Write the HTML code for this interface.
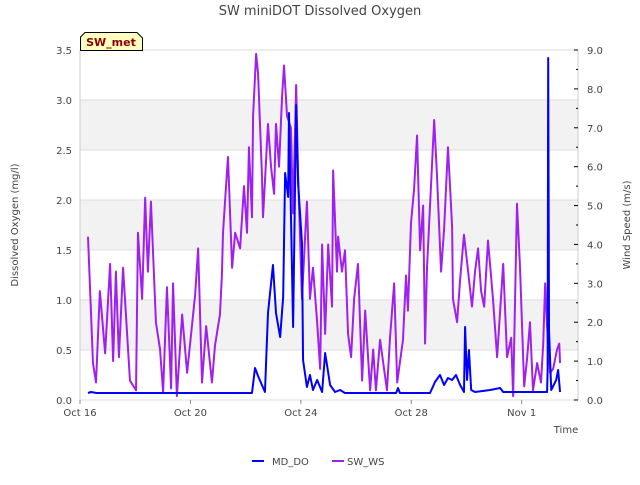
<!DOCTYPE html>
<html><head><meta charset="utf-8"><style>
body{margin:0;background:#fff;font-family:"Liberation Sans","DejaVu Sans",sans-serif}
svg text{font-family:"DejaVu Sans","Liberation Sans",sans-serif}
</style></head><body>
<svg id="c" width="640" height="480" viewBox="0 0 640 480" xmlns="http://www.w3.org/2000/svg"></svg>
<script>
// Days since Oct 16
const xTickDays=[0,4,8,12,16];
const xTickLabels=["Oct 16","Oct 20","Oct 24","Oct 28","Nov 1"];
const leftTicks=[0,0.5,1,1.5,2,2.5,3,3.5];
const rightTicks=[0,1,2,3,4,5,6,7,8,9];
const doT=[0.29,0.4,0.6,6.23,6.34,6.45,6.59,6.70,6.81,6.99,7.10,7.25,7.36,7.43,7.54,7.57,7.72,7.83,7.90,8.04,8.08,8.22,8.33,8.44,8.59,8.77,8.88,9.06,9.24,9.42,9.6,11.45,11.52,11.59,12.68,12.86,13.04,13.19,13.33,13.48,13.62,13.77,13.91,13.95,14.02,14.09,14.17,14.31,14.86,15.22,15.33,16.92,16.94,16.96,16.99,17.07,17.25,17.32,17.39];
const doV=[0.07,0.08,0.07,0.07,0.32,0.24,0.15,0.08,0.87,1.35,0.87,0.63,1.03,2.27,2.03,2.87,0.73,2.95,2.17,1.57,0.4,0.13,0.25,0.1,0.2,0.08,0.47,0.15,0.08,0.1,0.07,0.07,0.12,0.07,0.07,0.18,0.25,0.15,0.22,0.2,0.25,0.15,0.08,0.73,0.2,0.5,0.1,0.08,0.1,0.12,0.08,0.08,0.3,3.42,0.7,0.1,0.2,0.3,0.08];
const wsT=[0.29,0.47,0.58,0.72,0.91,1.09,1.20,1.30,1.41,1.56,1.81,2.03,2.10,2.25,2.36,2.46,2.57,2.75,2.90,3.01,3.15,3.30,3.37,3.51,3.70,3.88,4.17,4.28,4.42,4.57,4.78,4.89,5.07,5.14,5.18,5.36,5.51,5.62,5.80,5.94,6.05,6.12,6.23,6.27,6.38,6.45,6.59,6.63,6.81,6.92,7.03,7.10,7.21,7.32,7.39,7.50,7.64,7.72,7.83,7.90,8.04,8.22,8.33,8.44,8.59,8.70,8.77,8.88,8.99,9.13,9.17,9.31,9.35,9.49,9.60,9.71,9.82,9.93,10.07,10.22,10.33,10.51,10.62,10.72,10.87,11.12,11.23,11.38,11.49,11.70,11.81,11.88,11.99,12.10,12.21,12.32,12.43,12.50,12.57,12.68,12.83,12.93,13.08,13.19,13.33,13.48,13.51,13.66,13.77,13.91,14.06,14.20,14.31,14.42,14.53,14.64,14.78,14.96,15.11,15.33,15.47,15.62,15.69,15.83,15.94,16.09,16.20,16.30,16.41,16.56,16.70,16.78,16.85,16.92,17.03,17.14,17.28,17.36,17.39];
const wsV=[4.2,0.95,0.45,2.8,1.2,3.5,1.0,3.3,1.1,3.4,0.5,0.25,4.3,2.6,5.2,3.3,5.1,2.0,1.3,0.2,2.9,0.3,3.0,0.1,2.2,0.7,2.7,3.9,0.45,1.9,0.45,1.4,2.2,3.2,4.3,6.25,3.4,4.3,3.9,5.5,4.3,6.5,4.7,7.3,8.9,8.4,5.8,4.7,7.1,6.0,5.3,7.1,6.0,7.8,8.6,7.3,7.0,4.8,8.1,5.8,2.6,5.1,2.6,3.4,2.0,0.8,4.0,1.7,4.0,2.4,5.9,3.3,4.2,3.3,3.85,1.7,1.1,2.6,3.5,0.5,2.3,0.25,1.3,0.25,1.55,0.25,1.6,3.0,0.45,1.55,3.2,2.3,4.55,5.4,6.8,3.85,5.0,1.45,3.4,5.0,7.2,5.8,3.3,4.4,6.5,4.45,2.6,2.0,3.1,4.25,3.3,2.4,3.3,3.9,2.8,2.4,4.1,2.6,1.1,3.5,1.1,1.6,0.1,5.05,3.4,0.35,1.1,2.0,0.25,0.95,0.45,1.45,3.0,1.9,0.7,0.8,1.3,1.45,0.95];

const L=80,R=578,T=50,B=400,XMAX=18.04;
const xS=d=>L+d/XMAX*(R-L);
const yL=v=>B-v/3.5*(B-T);
const yR=v=>B-v/9*(B-T);
const svg=document.getElementById('c');
const NS="http://www.w3.org/2000/svg";
function mk(tag,attrs,parent){const e=document.createElementNS(NS,tag);for(const k in attrs)e.setAttribute(k,attrs[k]);(parent||svg).appendChild(e);return e;}
function txt(s,x,y,attrs){const e=mk('text',Object.assign({x:x,y:y,'font-size':10,fill:'#444'},attrs||{}));e.textContent=s;return e;}

// bands
for(let i=0;i<7;i++){
  const b=mk('rect',{x:L,y:yL((i+1)*0.5),width:R-L,height:yL(i*0.5)-yL((i+1)*0.5),fill:(i%2===1)?'#f2f2f2':'#ffffff'});
  
  
}
leftTicks.forEach(v=>{
  const g=mk('line',{x1:L,x2:R,y1:yL(v),y2:yL(v),stroke:'#dddddd','stroke-width':1});
  
  
  const t=txt(v.toFixed(1),72,yL(v)+4,{'text-anchor':'end'});
  
  
});
mk('line',{x1:L,x2:L,y1:T,y2:B,stroke:'#ccc'});
mk('line',{x1:R,x2:R,y1:T,y2:B,stroke:'#ccc'});
rightTicks.forEach(v=>{
  const t=txt(v.toFixed(1),587,yR(v)+4,{'text-anchor':'start'});
  
  
  mk('line',{x1:R,x2:R-4,y1:yR(v),y2:yR(v),stroke:'#000'});
  if(v<9)mk('line',{x1:R,x2:R-2,y1:yR(v+0.5),y2:yR(v+0.5),stroke:'#000'});
});
xTickDays.forEach((d,i)=>{
  mk('line',{x1:xS(d),x2:xS(d),y1:B,y2:B+4,stroke:'#888'});
  const t=txt(xTickLabels[i],xS(d),B+16,{'text-anchor':'middle'});
  
  
});

const ws=mk('polyline',{points:wsT.map((d,i)=>xS(d)+','+yR(wsV[i])).join(' '),fill:'none',stroke:'#a020f0','stroke-width':2,'stroke-linejoin':'round'});


const dl=mk('polyline',{points:doT.map((d,i)=>xS(d)+','+yL(doV[i])).join(' '),fill:'none',stroke:'#0000ff','stroke-width':2,'stroke-linejoin':'round'});


</script>
<svg width="640" height="480" style="position:absolute;left:0;top:0" xmlns="http://www.w3.org/2000/svg">
<text x="320" y="15" text-anchor="middle" font-size="13" fill="#444">SW miniDOT Dissolved Oxygen</text>
<text transform="translate(18,225) rotate(-90)" text-anchor="middle" font-size="10" fill="#444">Dissolved Oxygen (mg/l)</text>
<text transform="translate(630,225) rotate(-90)" text-anchor="middle" font-size="10" fill="#444">Wind Speed (m/s)</text>
<text x="566" y="433" text-anchor="middle" font-size="10" fill="#444">Time</text>
<g>
<path d="M80.5,50.5 L80.5,37 L85,32.5 L137,32.5 L142.5,38 L142.5,50.5 Z" fill="#ffffc0" stroke="#000"/>
<text x="111" y="46" text-anchor="middle" font-size="11" font-weight="bold" fill="#8b0000">SW_met</text>
</g>
<g>
<line x1="252" y1="461" x2="264" y2="461" stroke="#0000ff" stroke-width="2"/>
<text x="272" y="465" font-size="10" fill="#444">MD_DO</text>
</g>
<g>
<line x1="332" y1="461" x2="344" y2="461" stroke="#a020f0" stroke-width="2"/>
<text x="347" y="465" font-size="10" fill="#444">SW_WS</text>
</g>
</svg>
</body></html>
